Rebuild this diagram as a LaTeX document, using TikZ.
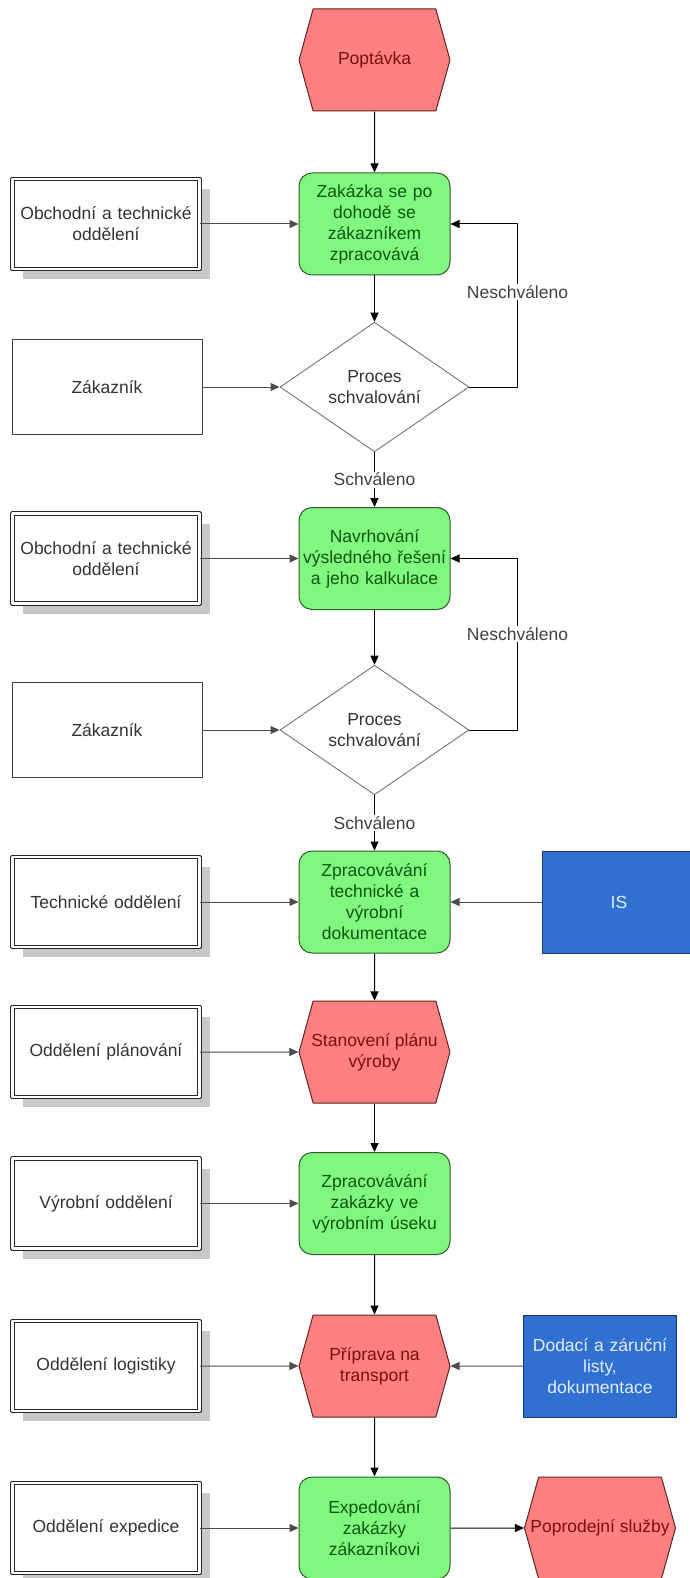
\documentclass[tikz,border=0pt]{standalone}
\usepackage{fontspec}
\setmainfont{Liberation Sans}
\usetikzlibrary{shapes.geometric,shapes.symbols,arrows.meta,shadows}

\definecolor{udalost}{HTML}{FF8080}
\definecolor{udalostokraj}{HTML}{5E2222}
\definecolor{udalosttext}{HTML}{7A0F0F}
\definecolor{funkce}{HTML}{80F880}
\definecolor{funkceokraj}{HTML}{2E5A2E}
\definecolor{funkcetext}{HTML}{0E560E}
\definecolor{dokument}{HTML}{3070D0}
\definecolor{dokumentokraj}{HTML}{1C3570}
\definecolor{dokumenttext}{HTML}{E4EEFF}
\definecolor{stin}{HTML}{C8C8C8}

\begin{document}
\begin{tikzpicture}[x=1pt,y=-1pt,line join=round,
    every node/.style={font=\fontsize{17.5}{21}\selectfont, align=center},
    udal/.style={signal, signal to=east and west, signal pointer angle=149,
      draw=udalostokraj, fill=udalost, text=udalosttext, line width=1pt,
      minimum width=151pt, minimum height=102pt, inner ysep=1pt, inner xsep=-13pt},
    fce/.style={rectangle, rounded corners=13pt, draw=funkceokraj, fill=funkce,
      text=funkcetext, line width=1pt, minimum width=151pt, minimum height=102pt,
      text width=146pt, inner sep=1pt},
    orgbox/.style={rectangle, draw=black!85, double=white, double distance=2.6pt,
      line width=0.9pt, fill=white, minimum width=187pt, minimum height=90pt,
      text width=180pt, text=black!80,
      drop shadow={shadow xshift=10pt, shadow yshift=-10pt, fill=stin, opacity=1}},
    zakbox/.style={rectangle, draw=black!75, line width=0.9pt, fill=white,
      minimum width=190pt, minimum height=95pt, text=black!80},
    rozh/.style={diamond, draw=black!55, line width=0.9pt, fill=white,
      minimum width=189pt, minimum height=114pt, inner sep=1pt, text=black!80},
    dok/.style={rectangle, draw=dokumentokraj, fill=dokument, text=dokumenttext,
      line width=1pt, minimum width=152pt, minimum height=102pt, text width=146pt},
    arr/.style={draw=black, line width=1pt, -{Triangle[length=9pt,width=8pt]}},
    sarr/.style={arr, draw=black!70},
    lbl/.style={fill=white, inner sep=1.5pt, text=black!75}]

  \useasboundingbox (0,0) rectangle (690,1578);

  % hlavni tok
  \node[udal] (poptavka) at (374.5,60) {Poptávka};
  \node[fce] (zpracovani) at (374.5,224) {Zakázka se po\\dohodě se\\zákazníkem\\zpracovává};
  \node[rozh] (schval1) at (374.5,387) {Proces\\schvalování};
  \node[fce] (navrh) at (374.5,558.5) {Navrhování\\výsledného řešení\\a jeho kalkulace};
  \node[rozh] (schval2) at (374.5,730) {Proces\\schvalování};
  \node[fce] (dokum) at (374.5,902) {Zpracovávání\\technické a\\výrobní\\dokumentace};
  \node[udal] (plan) at (374.5,1052) {Stanovení plánu\\výroby};
  \node[fce] (vyroba) at (374.5,1203.5) {Zpracovávání\\zakázky ve\\výrobním úseku};
  \node[udal] (priprava) at (374.5,1366) {Příprava na\\transport};
  \node[fce] (expedice) at (374.5,1528) {Expedování\\zakázky\\zákazníkovi};
  \node[udal] (poprodej) at (600,1528) {Poprodejní služby};

  % dokumenty vpravo
  \node[dok] (is) at (619,902) {IS};
  \node[dok] (listy) at (600,1366) {Dodací a záruční\\listy,\\dokumentace};

  \draw[arr] (poptavka) -- (zpracovani);
  \draw[arr] (zpracovani) -- (schval1);
  \draw[arr] (schval1) -- node[lbl]{Schváleno} (navrh);
  \draw[arr] (navrh) -- (schval2);
  \draw[arr] (schval2) -- node[lbl]{Schváleno} (dokum);
  \draw[arr] (dokum) -- (plan);
  \draw[arr] (plan) -- (vyroba);
  \draw[arr] (vyroba) -- (priprava);
  \draw[arr] (priprava) -- (expedice);
  \draw[arr] (expedice) -- (poprodej);
  \draw[arr] (schval1.east) -| node[lbl,pos=0.79]{Neschváleno} ([xshift=67pt]zpracovani.east) -- (zpracovani.east);
  \draw[arr] (schval2.east) -| node[lbl,pos=0.78]{Neschváleno} ([xshift=67pt]navrh.east) -- (navrh.east);
  \draw[sarr] (is) -- (dokum);
  \draw[sarr] (listy) -- (priprava);

  % zakaznik
  \foreach \i/\y/\cil in {1/387/schval1, 2/730/schval2}{
    \node[zakbox] (zak\i) at (107,\y) {Zákazník};
    \draw[sarr] (zak\i) -- (\cil);
  }

  % utvary vlevo
  \foreach \jm/\y/\cil/\txt in {obch1/224/zpracovani/{Obchodní a technické\\oddělení},
      obch2/558.5/navrh/{Obchodní a technické\\oddělení},
      tech/902/dokum/{Technické oddělení},
      planovani/1052/plan/{Oddělení plánování},
      vyrobni/1203.5/vyroba/{Výrobní oddělení},
      logistika/1366/priprava/{Oddělení logistiky},
      exped/1528/expedice/{Oddělení expedice}}{
    \node[orgbox] (\jm) at (106,\y) {\txt};
    \draw[sarr] (\jm) -- (\cil);
  }
\end{tikzpicture}
\end{document}
